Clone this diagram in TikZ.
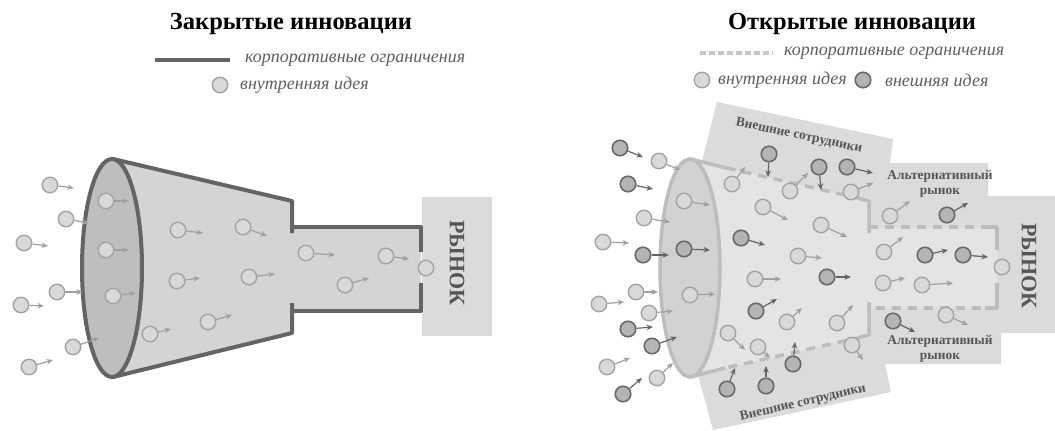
\documentclass[tikz,border=0pt]{standalone}
\usepackage{fontspec}
\setmainfont{Liberation Serif}
\usetikzlibrary{arrows.meta}
\definecolor{lfill}{HTML}{D9D9D9}
\definecolor{lstroke}{HTML}{A3A3A3}
\definecolor{dfill}{HTML}{B4B4B4}
\definecolor{dstroke}{HTML}{6A6A6A}
\definecolor{larrc}{HTML}{A0A0A0}
\definecolor{darrc}{HTML}{646464}
\definecolor{wall}{HTML}{646464}
\definecolor{lwall}{HTML}{BDBDBD}
\definecolor{bodyL}{HTML}{D4D4D4}
\definecolor{mouthL}{HTML}{BEBEBE}
\definecolor{panel}{HTML}{DBDBDB}
\definecolor{bodyR}{HTML}{E4E4E4}
\definecolor{mouthR}{HTML}{D2D2D2}
\definecolor{txt}{HTML}{555555}
\definecolor{legc}{HTML}{5E5E5E}
\begin{document}
\begin{tikzpicture}[x=1pt,y=-1pt,
  li/.style={circle,draw=lstroke,fill=lfill,line width=1.4pt,minimum size=15.5pt,inner sep=0pt},
  di/.style={circle,draw=dstroke,fill=dfill,line width=1.6pt,minimum size=15.5pt,inner sep=0pt},
  la/.style={draw=larrc,line width=1.2pt,-{Stealth[length=6.5pt,width=5.5pt]}},
  da/.style={draw=darrc,line width=1.2pt,-{Stealth[length=6.5pt,width=5.5pt]}},
  wallL/.style={draw=wall,line width=4pt,line join=round},
  wallR/.style={draw=lwall,line width=3.5pt,line join=round},
  dashR/.style={wallR,dash pattern=on 9pt off 7pt},
  title/.style={font=\fontsize{24.5}{27}\selectfont\bfseries},
  legtxt/.style={font=\fontsize{18}{20}\selectfont\itshape,text=legc,anchor=west,inner sep=0pt},
  mkt/.style={font=\fontsize{22}{24}\selectfont\bfseries,text=txt,rotate=-90},
  lab/.style={font=\fontsize{13.4}{15}\selectfont\bfseries,text=txt,align=center,inner sep=0pt}]
\useasboundingbox (0,0) rectangle (1055,431);

% ---------------- left: closed innovation ----------------
\node[title] (t1) at (291,24) {Закрытые инновации};
\draw[draw=wall,line width=3.5pt] (155,60) coordinate (lg1a) -- (230,60) coordinate (lg1b);
\node[legtxt] (lg1t) at (245,60) {корпоративные ограничения};
\node[li] (lg1c) at (220,85) {};
\node[legtxt] (lg1d) at (240,85) {внутренняя идея};

\fill[fill=panel] (422,197) rectangle (492,336);
\node[mkt] (m1) at (457,263) {РЫНОК};

\fill[bodyL] (113,159) -- (292,201) -- (292,227) -- (421,227) -- (421,311) -- (292,311) -- (292,333) -- (113,377) -- cycle;
\draw[wallL] (113,159) -- (292,201) -- (292,233);
\draw[wallL] (292,227) -- (421,227) -- (421,252);
\draw[wallL] (421,283) -- (421,311) -- (292,311);
\draw[wallL] (292,303) -- (292,333) -- (113,377);
\draw[wallL,fill=mouthL] (112,268) ellipse [x radius=30pt, y radius=109pt];

\foreach \x/\y/\tx/\ty [count=\i] in {
  50/185/74/188, 106/201/129/201, 66/219/89/223, 24/243/48/246, 106/250/129/250,
  178/230/203/233, 243/227/267/236, 306/253/335/255, 386/256/409/259,
  177/281/200/278, 249/277/275/274, 345/285/369/278, 57/292/83/292,
  113/296/136/293, 21/305/44/306, 150/334/171/329, 208/322/232/315,
  73/347/99/338, 29/367/53/360} {
  \node[li] (L\i) at (\x,\y) {};
  \coordinate (L\i t) at (\tx,\ty);
  \draw[la] (L\i) -- (L\i t);
}
\node[li] (Lm) at (426,268) {};

% ---------------- right: open innovation ----------------
\node[title] (t2) at (852,24) {Открытые инновации};
\draw[draw=lwall!85,line width=3.5pt,dash pattern=on 6pt off 3pt] (700,53) coordinate (lg2a) -- (773,53) coordinate (lg2b);
\node[legtxt] (lg2t) at (784,53) {корпоративные ограничения};
\node[li] (lg2c) at (702,80) {};
\node[legtxt] (lg2d) at (718,80) {внутренняя идея};
\node[di] (lg2e) at (863,80) {};
\node[legtxt] (lg2f) at (885,80) {внешняя идея};

\fill[panel] (717,102) -- (893,139) -- (890,163) -- (988,163) -- (988,196) -- (1055,196)
  -- (1055,333) -- (1001,333) -- (1001,364) -- (885,364) -- (891,392) -- (713,430)
  -- (698,375) -- (690,268) -- (703,157) -- cycle;
\fill[bodyR] (690,159) -- (869,201) -- (869,227) -- (997,227) -- (997,308) -- (869,308) -- (869,335) -- (690,377) -- cycle;

\node[lab,rotate=-12] (ext1) at (799,136) {Внешние сотрудники};
\node[lab,rotate=13] (ext2) at (803,403) {Внешние сотрудники};
\node[lab] (alt1) at (940,184) {Альтернативный\\рынок};
\node[lab] (alt2) at (940,349) {Альтернативный\\рынок};
\node[mkt] (m2) at (1029,266) {РЫНОК};

\draw[wallR] (690,159) -- (727,168);
\draw[dashR] (727,168) -- (862,199);
\draw[wallR] (860,199) -- (869,201) -- (869,233);
\draw[dashR] (869,227) -- (997,227);
\draw[wallR] (985,227) -- (997,227) -- (997,250);
\draw[wallR] (997,283) -- (997,308) -- (985,308);
\draw[dashR] (997,308) -- (869,308);
\draw[wallR] (869,302) -- (869,335) -- (860,337);
\draw[dashR] (862,337) -- (725,368);
\draw[wallR] (725,368) -- (690,377);
\draw[wallR,fill=mouthR] (690,268) ellipse [x radius=30pt, y radius=109pt];

\foreach \x/\y/\tx/\ty [count=\i] in {
  659/161/680/170, 644/218/670/222, 603/242/629/243, 636/292/658/292,
  599/304/624/302, 649/313/673/311, 607/367/630/358, 657/378/673/363,
  684/201/710/205, 690/295/715/294,
  732/184/745/167, 790/191/808/173, 851/192/873/183, 763/207/788/220,
  821/225/847/237, 798/256/822/258, 755/279/781/279, 787/322/802/308,
  837/323/853/305, 728/333/745/350, 758/347/770/358, 852/345/863/360,
  890/216/910/201, 884/252/903/237, 883/283/905/278, 922/285/953/283,
  946/315/968/325} {
  \node[li] (R\i) at (\x,\y) {};
  \coordinate (R\i t) at (\tx,\ty);
  \draw[la] (R\i) -- (R\i t);
}
\node[li] (Rm) at (1002,267) {};

\foreach \x/\y/\tx/\ty [count=\i] in {
  620/148/643/157, 628/184/653/189, 643/255/669/255, 684/249/710/250,
  628/329/653/327, 652/346/677/337, 623/394/642/378,
  769/154/768/177, 819/167/821/190, 847/167/873/173, 741/238/765/245,
  827/277/851/277, 756/311/777/299, 793/364/795/342, 727/389/735/368,
  766/386/766/366, 947/215/968/203, 925/255/948/250, 963/255/988/257,
  893/321/915/332} {
  \node[di] (D\i) at (\x,\y) {};
  \coordinate (D\i t) at (\tx,\ty);
  \draw[da] (D\i) -- (D\i t);
}
\end{tikzpicture}
\end{document}
